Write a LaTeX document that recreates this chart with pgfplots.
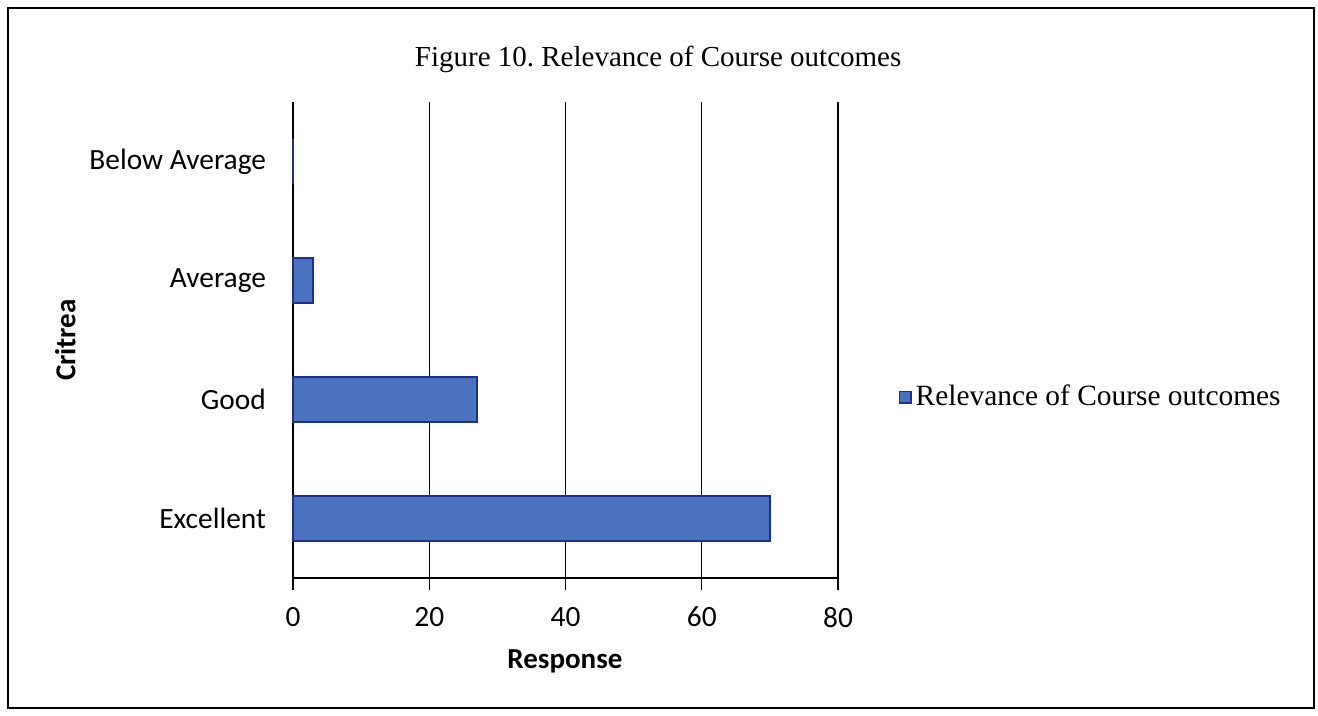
\documentclass[border=0pt]{standalone}
\usepackage{pgfplots}
\pgfplotsset{compat=1.18}
\usepackage{fontspec}
\setmainfont{Liberation Serif}
\newfontfamily\carlito{Carlito}
\definecolor{barfill}{RGB}{74,114,190}
\definecolor{barline}{RGB}{28,48,140}
\begin{document}
\begin{tikzpicture}
\useasboundingbox (0,0) rectangle (659pt,358pt);
\draw[line width=1pt] (4pt,4pt) rectangle (657pt,354pt);
\begin{axis}[
  at={(146.5pt,69pt)}, anchor=south west,
  scale only axis, width=272.5pt, height=238pt,
  xbar, bar width=22.5pt, bar shift=0pt,
  xmin=0, xmax=80, ymin=-0.5, ymax=3.5,
  xtick={0,20,40,60,80},
  ytick={0,1,2,3},
  yticklabels={Excellent,Good,Average,Below Average},
  axis lines=left, axis line style={-, line width=0.7pt},
  xmajorgrids, grid style={black, line width=0.7pt},
  xtick style={black, line width=0.7pt}, xtick align=outside,
  major tick length=6pt,
  ytick style={draw=none},
  /pgf/number format/assume math mode=true,
  tick label style={font=\carlito\fontsize{14.7}{17}\selectfont},
  xticklabel style={yshift=-5pt},
  yticklabel style={xshift=-7pt},
  xlabel={\carlito\bfseries\fontsize{14.5}{17}\selectfont Response},
  xlabel style={at={(axis description cs:0.499,-0.176)}, anchor=center},
  ylabel={\carlito\bfseries\fontsize{14.5}{17}\selectfont Critrea},
  ylabel style={at={(axis description cs:-0.418,0.5)}, anchor=center, rotate=0},
  title={\fontsize{14.5}{17}\selectfont Figure 10.\ Relevance of Course outcomes},
  title style={at={(axis description cs:0.67,1.065)}, anchor=center, yshift=0pt},
  legend style={at={(axis description cs:1.111,0.38)}, anchor=west, draw=none,
    font=\fontsize{14.7}{17}\selectfont, inner sep=0pt},
  legend image code/.code={\draw[fill=barfill, draw=barline, line width=0.8pt] (0pt,-2.8pt) rectangle (5.6pt,2.8pt);},
  clip=false,
]
\addplot[fill=barfill, draw=barline, line width=1pt] coordinates {(70,0) (27,1) (3,2) (0,3)};
\addlegendentry{Relevance of Course outcomes}
\end{axis}
\end{tikzpicture}
\end{document}
